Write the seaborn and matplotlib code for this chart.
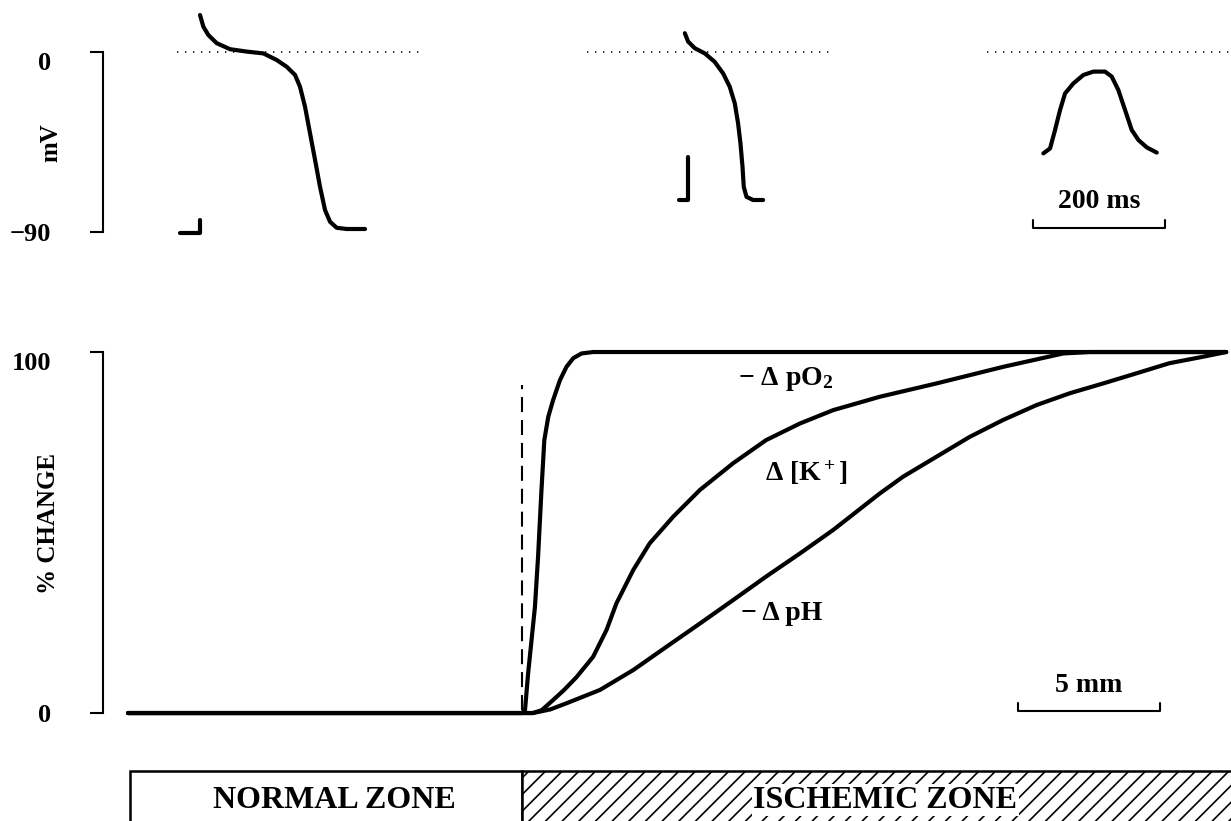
import numpy as np
import matplotlib
matplotlib.use("Agg")
import matplotlib.pyplot as plt
from matplotlib.patches import Rectangle
import seaborn as sns

# ---- data ----
# distance from the ischemic border (mm) vs % change
PO2_MM = [-13.87, 0.0, 0.11, 0.22, 0.34, 0.46, 0.57, 0.69, 0.79, 0.93, 1.1, 1.34, 1.57,
          1.81, 2.1, 2.51, 24.8]
PO2_PCT = [0, 0, 0.8, 11, 20.2, 29.4, 43.3, 61.8, 75.6, 82.1, 86.7, 92.2, 95.9,
           98.3, 99.6, 100, 100]

K_MM = [-13.87, 0.39, 0.7, 1.1, 1.5, 1.93, 2.51, 2.98, 3.33, 3.92, 4.5, 5.33, 6.27, 7.44,
        8.6, 9.79, 10.96, 12.6, 14.6, 16.95, 19.06, 20.0, 24.8]
K_PCT = [0, 0, 0.8, 3.6, 6.5, 10, 15.6, 23, 30.4, 39.6, 47, 54.4, 61.8, 69.2,
         75.6, 80.2, 83.9, 87.6, 91.3, 95.9, 99.6, 100, 100]

PH_MM = [-13.87, 0.39, 1.0, 1.57, 2.75, 3.92, 5.1, 6.27, 7.44, 8.6, 9.79, 10.96, 12.6,
         13.43, 14.6, 15.77, 16.95, 18.12, 19.3, 20.47, 21.64, 22.8, 23.99, 24.8]
PH_PCT = [0, 0, 1.0, 2.7, 6.4, 11.9, 18.4, 24.8, 31.3, 37.8, 44.2, 50.7, 60.8,
          65.5, 71, 76.5, 81.2, 85.3, 88.6, 91.3, 94.1, 96.9, 98.7, 100]

# action potentials: time from upstroke (ms) vs membrane potential (mV)
AP1_REST_T = [-28.8, 1.5, 1.5]
AP1_REST_MV = [-90.5, -90.5, -84]
AP1_T = [1.5, 6.5, 14.1, 26.8, 47, 72.3, 97.4, 117.7, 132.9, 145.5, 153, 160.6, 168.2,
         175.8, 183.3, 190.9, 198.5, 208.6, 223.8, 251.5]
AP1_MV = [18.5, 12.7, 8.5, 4.4, 1.4, 0.2, -0.7, -4, -7.4, -11.5, -17.4, -27.4, -40.7,
          -54, -67.4, -79, -84.9, -87.9, -88.5, -88.5]

AP2_REST_T = [-13.6, 0, 0]
AP2_REST_MV = [-74, -74, -52.5]
AP2_T = [-4.5, 0.5, 10.6, 25.8, 40.7, 53.5, 63.6, 71.2, 76.2, 79.8, 82.9, 84.8, 88.9, 98.9, 114.1]
AP2_MV = [9.4, 5.2, 1.9, -0.7, -4.9, -10.7, -17.4, -25.7, -35.7, -45.7, -57.4, -67.4, -72.4, -74, -74]

AP3_T = [0, 10.2, 17.7, 25.3, 32.9, 45.5, 60.6, 75.8, 93.5, 103.6, 113.6, 123.8, 133.9,
         144, 156.7, 171.8]
AP3_MV = [-50.7, -48.2, -39, -29, -20.7, -15.7, -11.5, -9.8, -9.8, -12.3, -19, -29, -39,
          -44, -47.7, -50.3]

# ---- layout ----
AP_ONSETS = [145.5, 886, 1424.7]                    # ms on the top strip
ZERO_SPANS = [(112, 483), (733, 1103), (1339, 1709)]  # dotted 0 mV lines
MS_BAR = (1409, 1609)
MM_BAR = (17.46, 22.46)

sns.set_theme(style="white")
plt.rcParams["font.family"] = ["Liberation Serif", "DejaVu Serif"]
plt.rcParams["font.weight"] = "bold"
plt.rcParams["text.color"] = "black"
plt.rcParams["axes.labelcolor"] = "black"
plt.rcParams["mathtext.fontset"] = "custom"
plt.rcParams["mathtext.rm"] = "Liberation Serif:bold"
plt.rcParams["mathtext.it"] = "Liberation Serif:bold"
plt.rcParams["mathtext.bf"] = "Liberation Serif:bold"
plt.rcParams["hatch.linewidth"] = 1.2

W, H = 1231, 821
fig = plt.figure(figsize=(W / 100, H / 100), dpi=100)
left, width = 103 / W, 1128 / W
ax_ap = fig.add_axes([left, 1 - 260 / H, width, 260 / H])
ax_ch = fig.add_axes([left, 1 - 730 / H, width, 400 / H])
ax_zone = fig.add_axes([left, 0, width, 61 / H])

line_kw = dict(color="black", lw=3.0, estimator=None, sort=False,
               solid_capstyle="round", solid_joinstyle="round")

# ---- top strip: action potentials ----
for (t0, t1) in ZERO_SPANS:
    ax_ap.plot([t0, t1], [0, 0], color="black", lw=1.2, linestyle=(0, (0.8, 4)))

aps = [(AP1_REST_T, AP1_REST_MV, AP1_T, AP1_MV),
       (AP2_REST_T, AP2_REST_MV, AP2_T, AP2_MV),
       (None, None, AP3_T, AP3_MV)]
for onset, (rt, rv, t, mv) in zip(AP_ONSETS, aps):
    if rt is not None:
        sns.lineplot(x=np.array(rt) + onset, y=rv, ax=ax_ap, **line_kw)
    sns.lineplot(x=np.array(t) + onset, y=mv, ax=ax_ap, **line_kw)

b0, b1 = MS_BAR
ax_ap.plot([b0, b0, b1, b1], [-84, -88, -88, -84], color="black", lw=1.5)
ax_ap.text((b0 + b1) / 2, -75, "200 ms", ha="center", va="center", fontsize=20)

ax_ap.set_xlim(0, 1709)
ax_ap.set_ylim(-104, 26)
ax_ap.set_xticks([])
ax_ap.set_yticks([0, -90])
ax_ap.set_yticklabels(["0", "\u221290"])
ax_ap.yaxis.get_major_ticks()[0].label1.set_va("top")
ax_ap.set_ylabel("mV", fontsize=18, fontweight="bold")
ax_ap.yaxis.set_label_coords(-0.036, 0.45)

# ---- middle: % change vs distance ----
ax_ch.plot([0, 0], [0.8, 90.9], color="black", lw=1.5, linestyle=(0, (7.2, 3.8)))
sns.lineplot(x=PH_MM, y=PH_PCT, ax=ax_ch, **line_kw)
sns.lineplot(x=K_MM, y=K_PCT, ax=ax_ch, **line_kw)
sns.lineplot(x=PO2_MM, y=PO2_PCT, ax=ax_ch, **line_kw)

ax_ch.text(9.3, 92.5, "\u2212 \u0394 pO$_2$", ha="center", va="center", fontsize=20)
ax_ch.text(10.0, 66.5, "\u0394 [K$^+$]", ha="center", va="center", fontsize=20)
ax_ch.text(9.15, 27.5, "\u2212 \u0394 pH", ha="center", va="center", fontsize=20)

m0, m1 = MM_BAR
ax_ch.plot([m0, m0, m1, m1], [2.8, 0.5, 0.5, 2.8], color="black", lw=1.5)
ax_ch.text((m0 + m1) / 2, 7.5, "5 mm", ha="center", va="center", fontsize=20)

ax_ch.set_xlim(-14.75, 24.97)
ax_ch.set_ylim(-4.7, 106.1)
ax_ch.set_xticks([])
ax_ch.set_yticks([0, 100])
ax_ch.set_yticklabels(["0", "100"])
ax_ch.yaxis.get_major_ticks()[1].label1.set_va("top")
ax_ch.set_ylabel("% CHANGE", fontsize=18, fontweight="bold")
ax_ch.yaxis.set_label_coords(-0.038, 0.5175)

for ax, lo, hi in [(ax_ap, -90, 0), (ax_ch, 0, 100)]:
    for s in ["top", "right", "bottom"]:
        ax.spines[s].set_visible(False)
    ax.spines["left"].set_bounds(lo, hi)
    ax.spines["left"].set_color("black")
    ax.spines["left"].set_linewidth(1.5)
    ax.tick_params(axis="y", left=True, direction="out", length=9.4, width=1.5,
                   pad=28, labelsize=19, colors="black")
    for lab in ax.get_yticklabels():
        lab.set_fontweight("bold")
    ax.grid(False)

# ---- bottom: zone bar ----
ax_zone.set_xlim(-14.75, 24.97)
ax_zone.set_ylim(0, 1)
ax_zone.axis("off")
ax_zone.add_patch(Rectangle((-13.8, -0.5), 13.8, 1.32, facecolor="white",
                            edgecolor="black", lw=1.8))
ax_zone.add_patch(Rectangle((0, -0.5), 30, 1.32, facecolor="white",
                            edgecolor="black", lw=1.8, hatch="//"))
ax_zone.text(-6.62, 0.34, "NORMAL ZONE", ha="center", va="center", fontsize=23)
ax_zone.text(12.8, 0.34, "ISCHEMIC ZONE", ha="center", va="center", fontsize=23,
             bbox=dict(facecolor="white", edgecolor="none", pad=1))

fig.savefig("out.png", dpi=100)
